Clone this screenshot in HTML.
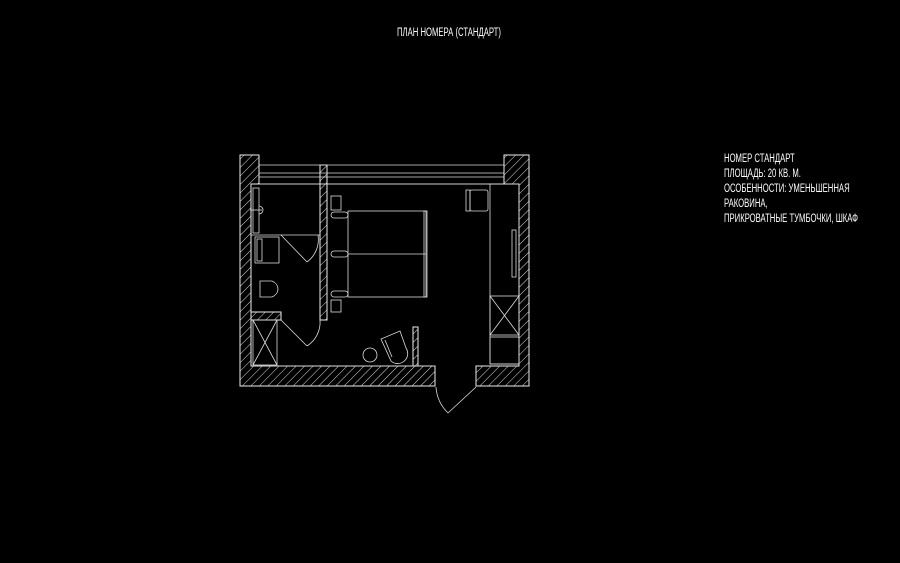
<!DOCTYPE html>
<html><head><meta charset="utf-8"><style>
html,body{margin:0;padding:0;background:#000;width:900px;height:563px;overflow:hidden}
.t{position:absolute;color:#fff;font-family:"Liberation Sans",sans-serif;font-size:11.5px;line-height:14px;white-space:nowrap;transform:scaleX(0.67);transform-origin:0 0}
</style></head><body>
<div class="t" style="left:397px;top:26px;">ПЛАН НОМЕРА (СТАНДАРТ)</div>
<div class="t" style="left:724px;top:152px;line-height:15px">НОМЕР СТАНДАРТ<br>ПЛОЩАДЬ: 20 КВ. М.<br>ОСОБЕННОСТИ: УМЕНЬШЕННАЯ<br>РАКОВИНА,<br>ПРИКРОВАТНЫЕ ТУМБОЧКИ, ШКАФ</div>
<svg width="900" height="563" style="position:absolute;left:0;top:0" xmlns="http://www.w3.org/2000/svg">
<defs><pattern id="h" patternUnits="userSpaceOnUse" width="6" height="6" patternTransform="rotate(45)"><line x1="0" y1="0" x2="0" y2="6" stroke="#ddd" stroke-width="1"/></pattern></defs>
<g stroke="#eee" stroke-width="1" fill="url(#h)">
<path d="M240,155H259V184H251V366H435V386H240Z"/>
<path d="M504,155H529V386H476V366H519V184H504Z"/>
<rect x="320" y="165" width="7" height="155"/>
<rect x="251" y="312" width="30" height="8"/>
<rect x="413" y="327" width="5" height="39"/>
</g>
<g stroke="#ddd" stroke-width="0.8" fill="none">
<line x1="259" y1="165" x2="504" y2="165"/><line x1="259" y1="173" x2="504" y2="173"/>
<line x1="259" y1="177" x2="504" y2="177"/><line x1="259" y1="184" x2="504" y2="184"/>
<rect x="348" y="211" width="78" height="86"/><line x1="348" y1="254" x2="426" y2="254"/>
<rect x="424" y="211" width="3" height="86"/>
<rect x="331" y="212" width="17" height="6" rx="3"/><rect x="331" y="251" width="17" height="6" rx="3"/><rect x="331" y="291" width="17" height="6" rx="3"/>
<rect x="331" y="196" width="10" height="14"/><rect x="331" y="300" width="10" height="12"/>
<rect x="490" y="184" width="29" height="180"/>
<rect x="490" y="296" width="29" height="39"/><line x1="490" y1="296" x2="519" y2="335"/><line x1="519" y1="296" x2="490" y2="335"/>
<rect x="490" y="337" width="29" height="27"/>
<rect x="466" y="190" width="4" height="21"/><rect x="470" y="190" width="18" height="21" rx="2"/>
<rect x="512" y="230" width="4" height="47"/>
<rect x="253" y="188" width="6" height="45"/><path d="M259,206 A4,4 0 1 1 259,214"/><line x1="250" y1="210" x2="262" y2="210"/>
<rect x="255" y="237" width="24" height="26"/><rect x="257" y="239" width="5" height="22"/>
<line x1="251" y1="235" x2="320" y2="235"/>
<path d="M260,281 H272 A11,9 0 0 1 272,297 H260 Z"/>
<rect x="253" y="320" width="24" height="45"/><line x1="253" y1="320" x2="277" y2="365"/><line x1="277" y1="320" x2="253" y2="365"/>
<line x1="281" y1="235" x2="307" y2="262"/><path d="M307,262 A28,28 0 0 0 318,235"/>
<line x1="281" y1="320" x2="307" y2="346"/><path d="M307,346 A28,28 0 0 0 320,320"/>
<line x1="476" y1="387" x2="448" y2="413"/><path d="M436,387 A40,40 0 0 0 448,413"/>
<circle cx="370" cy="355" r="7"/>
<path d="M381,339 L400,331 L406,348 A10,10 0 0 1 391,361 Z"/><path d="M385,340 L392,357"/>
<line x1="251" y1="366" x2="435" y2="366"/><line x1="259" y1="184" x2="504" y2="184"/>
</g>
</svg>
</body></html>
